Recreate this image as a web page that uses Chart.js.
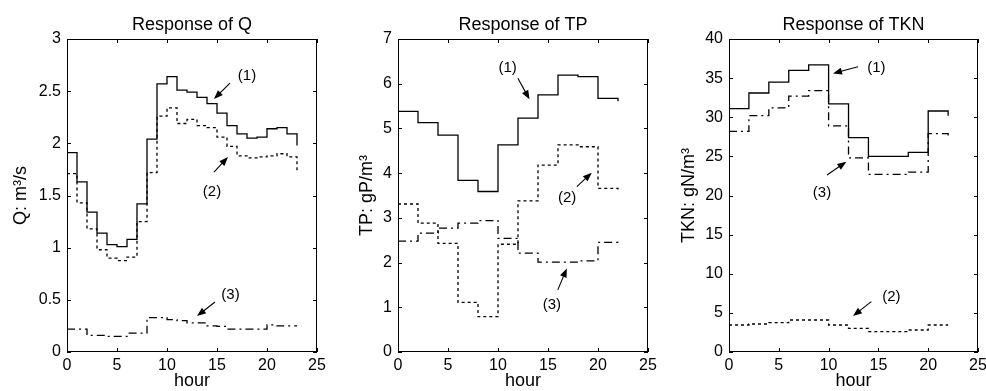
<!DOCTYPE html>
<html lang="en">
<head>
<meta charset="UTF-8">
<title>Response of Q, TP and TKN</title>
<script src="https://cdn.jsdelivr.net/npm/chart.js"></script>
<style>
  body { margin: 0; background: #fff; }
  .wrap { position: relative; width: 986px; height: 391px; }
  canvas { position: absolute; top: 0; }
</style>
</head>
<body>
<div class="wrap">
  <canvas id="cq" width="330" height="391" style="left:0"></canvas>
  <canvas id="ctp" width="330" height="391" style="left:330px"></canvas>
  <canvas id="ctkn" width="330" height="391" style="left:656px"></canvas>
</div>
<script>
// hours
const hoursQ = [0,1,2,3,4,5,6,7,8,9,10,11,12,13,14,15,16,17,18,19,20,21,22,23];
const hours2h = [0,2,4,6,8,10,12,14,16,18,20,22];
const hourTicks = [0,5,10,15,20,25];

// Q (m3/s)
const q1 = [1.91,1.63,1.34,1.14,1.03,1.01,1.08,1.42,2.04,2.57,2.64,2.51,2.49,2.44,2.38,2.29,2.17,2.09,2.05,2.06,2.14,2.15,2.09,1.98];
const q2 = [1.71,1.43,1.18,0.98,0.90,0.875,0.91,1.25,1.72,2.26,2.34,2.19,2.23,2.17,2.15,2.06,1.97,1.88,1.86,1.87,1.88,1.90,1.87,1.73];
const q3 = [0.22,0.22,0.16,0.16,0.15,0.15,0.18,0.18,0.33,0.33,0.31,0.30,0.28,0.28,0.25,0.245,0.22,0.22,0.22,0.22,0.26,0.25,0.25,0.25];
const qTicks = [0,0.5,1,1.5,2,2.5,3];

// TP (gP/m3)
const tp1 = [5.38,5.13,4.85,3.84,3.59,4.63,5.23,5.75,6.19,6.16,5.67,5.61];
const tp2 = [3.31,2.88,2.43,1.11,0.79,2.41,3.38,4.18,4.63,4.59,3.66,3.62];
const tp3 = [2.48,2.66,2.77,2.88,2.94,2.54,2.21,2.01,2.01,2.04,2.45,2.43];
const tpTicks = [0,1,2,3,4,5,6,7];

// TKN (gN/m3)
const tkn1 = [31.1,33.1,34.5,36.0,36.7,31.7,27.4,25.0,25.0,25.5,30.8,30.2];
const tkn2 = [3.45,3.58,3.75,4.09,4.09,3.45,3.03,2.6,2.6,2.81,3.45,3.45];
const tkn3 = [28.2,30.2,31.2,32.7,33.4,28.9,24.8,22.7,22.7,23.0,27.9,27.6];
const tknTicks = [0,5,10,15,20,25,30,35,40];

// labels (1)(2)(3): text position and arrow, in data units [hour, value]
const qNotes = [
  { text: '(1)', at: [18.0, 2.646], from: [16.3, 2.578], to: [14.7, 2.425] },
  { text: '(2)', at: [14.5, 1.537], from: [14.7, 1.725], to: [16.1, 1.869] },
  { text: '(3)', at: [16.35, 0.549], from: [14.8, 0.479], to: [13.0, 0.345] }
];
const tpNotes = [
  { text: '(1)', at: [10.97, 6.36], from: [11.99, 6.12], to: [13.15, 5.65] },
  { text: '(2)', at: [16.92, 3.44], from: [17.88, 3.70], to: [19.38, 4.01] },
  { text: '(3)', at: [15.38, 1.05], from: [15.98, 1.39], to: [16.88, 1.87] }
];
const tknNotes = [
  { text: '(1)', at: [14.79, 36.26], from: [12.95, 36.46], to: [10.44, 35.6] },
  { text: '(3)', at: [9.34, 20.36], from: [9.84, 22.62], to: [11.78, 24.32] },
  { text: '(2)', at: [16.3, 7.07], from: [14.29, 6.43], to: [12.45, 4.6] }
];

const FONT = "'Liberation Sans', Arial, sans-serif";
Chart.defaults.font.family = FONT;
Chart.defaults.color = '#000';

const dashes = [[], [3, 3], [8, 4, 2, 4]];

function arrow(ctx, x1, y1, x2, y2) {
  const a = Math.atan2(y2 - y1, x2 - x1);
  const L = 9, W = 3.5;
  ctx.beginPath();
  ctx.moveTo(x1, y1);
  ctx.lineTo(x2 - L * 0.6 * Math.cos(a), y2 - L * 0.6 * Math.sin(a));
  ctx.stroke();
  ctx.beginPath();
  ctx.moveTo(x2, y2);
  ctx.lineTo(x2 - L * Math.cos(a) + W * Math.sin(a), y2 - L * Math.sin(a) - W * Math.cos(a));
  ctx.lineTo(x2 - L * Math.cos(a) - W * Math.sin(a), y2 - L * Math.sin(a) + W * Math.cos(a));
  ctx.closePath();
  ctx.fill();
}

// frame, inward ticks, titles, labels and arrows
function deco(p) {
  return {
    id: 'deco',
    afterDraw(chart) {
      const ctx = chart.ctx, a = chart.chartArea;
      const xs = chart.scales.x, ys = chart.scales.y;
      ctx.save();
      ctx.strokeStyle = '#000';
      ctx.fillStyle = '#000';
      ctx.lineWidth = 1;
      ctx.strokeRect(a.left + 0.5, a.top + 0.5, a.right - a.left - 1, a.bottom - a.top - 1);
      ctx.beginPath();
      hourTicks.forEach(v => {
        const x = Math.round(xs.getPixelForValue(v)) + 0.5;
        ctx.moveTo(x, a.bottom); ctx.lineTo(x, a.bottom - 4);
        ctx.moveTo(x, a.top); ctx.lineTo(x, a.top + 4);
      });
      p.yTicks.forEach(v => {
        const y = Math.round(ys.getPixelForValue(v)) + 0.5;
        ctx.moveTo(a.left, y); ctx.lineTo(a.left + 4, y);
        ctx.moveTo(a.right, y); ctx.lineTo(a.right - 4, y);
      });
      ctx.stroke();

      const cx = (a.left + a.right) / 2;
      ctx.textAlign = 'center';
      ctx.textBaseline = 'middle';
      ctx.font = '18px ' + FONT;
      ctx.fillText(p.title, cx, 25);
      ctx.fillText('hour', cx, 381);
      ctx.save();
      ctx.translate(a.left - p.yLabelOffset, (a.top + a.bottom) / 2);
      ctx.rotate(-Math.PI / 2);
      ctx.fillText(p.yLabel, 0, 0);
      ctx.restore();

      ctx.font = '15px ' + FONT;
      ctx.lineWidth = 1.1;
      p.notes.forEach(n => {
        ctx.fillText(n.text, xs.getPixelForValue(n.at[0]), ys.getPixelForValue(n.at[1]));
        arrow(ctx,
          xs.getPixelForValue(n.from[0]), ys.getPixelForValue(n.from[1]),
          xs.getPixelForValue(n.to[0]), ys.getPixelForValue(n.to[1]));
      });
      ctx.restore();
    }
  };
}

function makeChart(id, p) {
  const sets = p.series.map((vals, i) => ({
    data: p.hours.map((h, k) => ({ x: h, y: vals[k] })),
    borderColor: '#000',
    borderWidth: 1.3,
    borderDash: dashes[i],
    stepped: true,
    pointRadius: 0,
    fill: false
  }));
  return new Chart(document.getElementById(id), {
    type: 'line',
    data: { datasets: sets },
    options: {
      responsive: false,
      animation: false,
      layout: { padding: { left: 0, top: 39, right: p.padRight, bottom: 0 } },
      plugins: { legend: { display: false }, tooltip: { enabled: false } },
      scales: {
        x: {
          type: 'linear', min: 0, max: 25,
          grid: { display: false, drawTicks: false, tickLength: 0 },
          border: { display: false },
          ticks: { padding: 4, font: { size: 16 }, maxRotation: 0, callback: v => String(v) },
          afterBuildTicks: s => { s.ticks = hourTicks.map(v => ({ value: v })); },
          afterFit: s => { s.height = 39; s.paddingLeft = 0; s.paddingRight = 0; }
        },
        y: {
          type: 'linear', min: 0, max: p.yTicks[p.yTicks.length - 1],
          grid: { display: false, drawTicks: false, tickLength: 0 },
          border: { display: false },
          ticks: { padding: 6, font: { size: 16 }, callback: v => String(v) },
          afterBuildTicks: s => { s.ticks = p.yTicks.map(v => ({ value: v })); },
          afterFit: s => { s.width = p.plotLeft; s.paddingTop = 0; s.paddingBottom = 0; }
        }
      }
    },
    plugins: [deco(p)]
  });
}

makeChart('cq', {
  title: 'Response of Q', yLabel: 'Q: m³/s', yLabelOffset: 46,
  hours: hoursQ, series: [q1, q2, q3], yTicks: qTicks, notes: qNotes,
  plotLeft: 67, padRight: 13
});
makeChart('ctp', {
  title: 'Response of TP', yLabel: 'TP: gP/m³', yLabelOffset: 31,
  hours: hours2h, series: [tp1, tp2, tp3], yTicks: tpTicks, notes: tpNotes,
  plotLeft: 68, padRight: 12
});
makeChart('ctkn', {
  title: 'Response of TKN', yLabel: 'TKN: gN/m³', yLabelOffset: 40,
  hours: hours2h, series: [tkn1, tkn2, tkn3], yTicks: tknTicks, notes: tknNotes,
  plotLeft: 73, padRight: 8
});
</script>
</body>
</html>
